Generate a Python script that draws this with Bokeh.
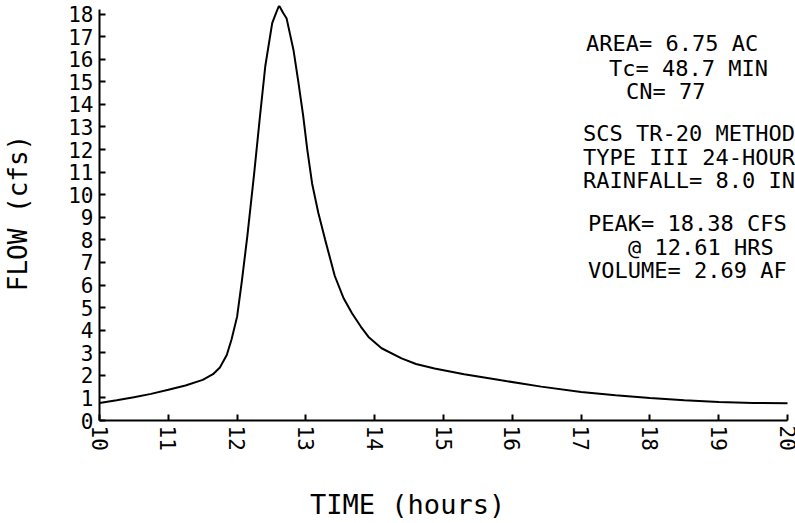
import math
from bokeh.plotting import figure
from bokeh.layouts import column
from bokeh.models import Range1d, FixedTicker, Label, ColumnDataSource
from bokeh.core.properties import value
from bokeh.embed import file_html
from bokeh.resources import INLINE

# ---- data ----
time_hr = [10.0, 10.25, 10.5, 10.75, 11.0, 11.25, 11.5, 11.65, 11.75, 11.85,
           11.92, 12.0, 12.07, 12.15, 12.25, 12.33, 12.41, 12.51, 12.56, 12.61,
           12.67, 12.72, 12.82, 12.89, 12.96, 13.02, 13.09, 13.18, 13.28, 13.42,
           13.55, 13.67, 13.8, 13.91, 14.1, 14.39, 14.6, 14.87, 15.3, 15.84,
           16.42, 17.0, 17.5, 18.0, 18.5, 19.0, 19.5, 20.0]
flow_cfs = [0.78, 0.9, 1.03, 1.18, 1.36, 1.55, 1.8, 2.05, 2.35, 2.9,
            3.6, 4.6, 6.2, 8.2, 11.0, 13.4, 15.7, 17.6, 18.0, 18.38,
            18.05, 17.8, 16.4, 15.0, 13.5, 12.0, 10.5, 9.2, 8.0, 6.4,
            5.4, 4.75, 4.15, 3.7, 3.2, 2.75, 2.5, 2.3, 2.05, 1.78,
            1.5, 1.26, 1.12, 1.0, 0.9, 0.82, 0.78, 0.76]
x_ticks = list(range(10, 21))
y_ticks = list(range(0, 19))
x_title = "TIME (hours)"
y_title = "FLOW (cfs)"
info_lines = ["AREA= 6.75 AC", "Tc= 48.7 MIN", "CN= 77",
              "SCS TR-20 METHOD", "TYPE III 24-HOUR", "RAINFALL= 8.0 IN",
              "PEAK= 18.38 CFS", "@ 12.61 HRS", "VOLUME= 2.69 AF"]

FONT = "DejaVu Sans Mono"
W, H_TOTAL = 795, 523
H = 470                      # main figure; the x-axis title strip fills the rest
BL, BR, BT = 97, 0, 5
FRAME_BOTTOM = 420
BB = H - FRAME_BOTTOM
PX_PER_HR = 69.0
X0, X1 = 10, 20 + 8 / PX_PER_HR
Y0, Y1 = 0, 18.38

p = figure(width=W, height=H, x_range=Range1d(X0, X1), y_range=Range1d(Y0, Y1),
           output_backend="svg", toolbar_location=None,
           min_border_left=BL, min_border_right=BR, min_border_top=BT, min_border_bottom=BB)
p.outline_line_color = None
p.grid.visible = False
p.background_fill_color = "white"
p.border_fill_color = "white"

fw = W - BL - BR
fh = H - BT - BB

def sx(px):
    return X0 + (px - BL) / fw * (X1 - X0)

def sy(py):
    return Y0 + (BT + fh - py) / fh * (Y1 - Y0)

p.line(time_hr, flow_cfs, line_color="black", line_width=2)

for ax in (p.xaxis[0], p.yaxis[0]):
    ax.axis_line_color = "black"
    ax.axis_line_width = 2
    ax.major_tick_line_color = "black"
    ax.major_tick_line_width = 2
    ax.major_tick_out = 0
    ax.major_tick_in = 6
    ax.minor_tick_line_color = None
    ax.major_label_text_font = FONT
    ax.major_label_text_font_size = "21px"
    ax.major_label_text_color = "black"

p.xaxis.ticker = FixedTicker(ticks=x_ticks)
p.yaxis.ticker = FixedTicker(ticks=y_ticks)
p.xaxis.bounds = (10, 20)
p.yaxis.bounds = (0, 18.2)
p.xaxis.major_label_orientation = "vertical"
p.xaxis.major_label_standoff = 5
p.yaxis.major_label_standoff = 6

# y axis title
p.yaxis.axis_label = y_title
p.yaxis.axis_label_text_font = FONT
p.yaxis.axis_label_text_font_size = "26px"
p.yaxis.axis_label_text_font_style = "normal"
p.yaxis.axis_label_text_color = "black"
p.yaxis.axis_label_standoff = 32

# info block
info_pos = [(585, 43), (608, 68), (625, 91),
            (582, 133), (582, 157), (582, 180),
            (587, 223), (627, 247), (587, 270)]
for txt, (rx, ry) in zip(info_lines, info_pos):
    p.add_layout(Label(x=sx(rx), y=sy(ry), text=txt, text_font=FONT,
                       text_font_size="22px", text_align="left", text_baseline="middle",
                       text_color="black"))

# strip below holding the x-axis title; its frame is aligned with the main
# frame by the column layout, so its range is given in page pixels
H2 = H_TOTAL - H
p2 = figure(width=W, height=H2, x_range=Range1d(BL, W), y_range=Range1d(H2, 0),
            output_backend="svg", toolbar_location=None,
            x_axis_type=None, y_axis_type=None,
            min_border_left=0, min_border_right=0, min_border_top=0, min_border_bottom=0)
p2.outline_line_color = None
p2.grid.visible = False
p2.background_fill_color = "white"
p2.border_fill_color = "white"
src = ColumnDataSource(dict(x=[406], y=[504 - H], t=[x_title]))
p2.text(x="x", y="y", text="t", source=src, text_font=value(FONT),
        text_font_size="27px", text_align="center", text_baseline="middle",
        text_color="black")

open("out.html", "w").write(file_html(column(p, p2, spacing=0), INLINE))
